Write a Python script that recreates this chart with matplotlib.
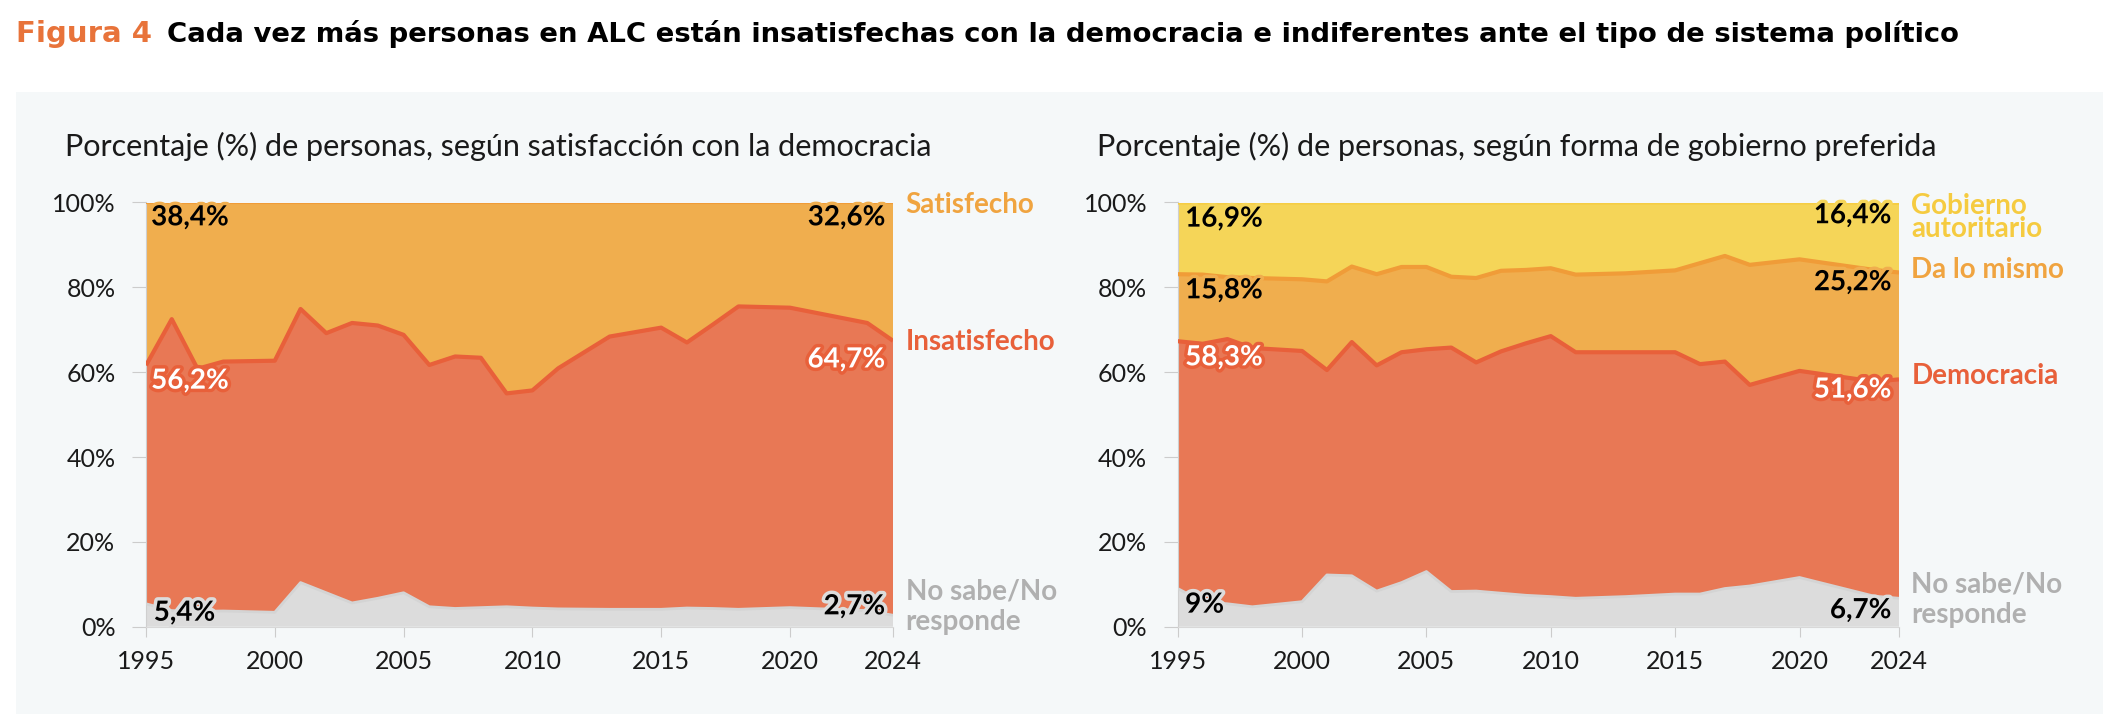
import matplotlib
matplotlib.use("Agg")
import matplotlib.pyplot as plt
import matplotlib.patheffects as pe
import numpy as np
from matplotlib.patches import Rectangle

# data, in percent
years = [1995, 1996, 1997, 1998, 2000, 2001, 2002, 2003, 2004, 2005, 2006, 2007,
         2008, 2009, 2010, 2011, 2013, 2015, 2016, 2017, 2018, 2020, 2023, 2024]

# left: satisfaction with democracy
sat_ns = [5.4, 3.8, 3.6, 3.7, 3.4, 10.4, 8.0, 5.6, 6.7, 8.0, 4.7, 4.3,
          4.5, 4.7, 4.4, 4.2, 4.1, 4.1, 4.4, 4.3, 4.1, 4.5, 3.8, 2.7]
insatisfecho = [56.2, 68.7, 57.2, 58.8, 59.3, 64.5, 61.2, 66.0, 64.3, 60.8, 57.0, 59.4,
                58.9, 50.3, 51.3, 56.7, 64.3, 66.4, 62.6, 66.9, 71.4, 70.7, 67.8, 64.7]
satisfecho = [38.4, 27.5, 39.2, 37.5, 37.3, 25.1, 30.8, 28.4, 29.0, 31.2, 38.3, 36.3,
              36.6, 45.0, 44.3, 39.1, 31.6, 29.5, 33.0, 28.8, 24.5, 24.8, 28.4, 32.6]

# right: preferred form of government
gov_ns = [9.0, 5.9, 5.4, 4.7, 5.9, 12.2, 12.0, 8.4, 10.4, 13.0, 8.3, 8.4,
          7.9, 7.4, 7.1, 6.7, 7.1, 7.7, 7.7, 9.0, 9.6, 11.6, 7.2, 6.7]
democracia = [58.3, 60.8, 62.4, 61.0, 59.1, 48.3, 55.1, 53.2, 54.3, 52.4, 57.5, 53.9,
              57.0, 59.4, 61.4, 58.0, 57.6, 57.0, 54.2, 53.5, 47.4, 48.7, 50.6, 51.6]
da_lo_mismo = [15.8, 16.3, 14.6, 16.5, 16.9, 20.9, 17.8, 21.5, 20.1, 19.4, 16.7, 19.9,
               19.0, 17.3, 16.0, 18.3, 18.6, 19.3, 23.8, 24.9, 28.3, 26.3, 26.3, 25.2]
autoritario = [16.9, 17.0, 17.6, 17.8, 18.1, 18.6, 15.1, 16.9, 15.2, 15.2, 17.5, 17.8,
               16.1, 15.9, 15.5, 17.0, 16.7, 16.0, 14.3, 12.6, 14.7, 13.4, 15.9, 16.4]

xticks = [1995, 2000, 2005, 2010, 2015, 2020, 2024]

C_GRAY = "#dcdcdc"
C_RED = "#e87855"
C_ORANGE = "#f0ae4e"
C_YELLOW = "#f5d558"
L_GRAY = "#d4d4d4"
L_RED = "#e8603a"
L_ORANGE = "#f09c38"
L_YELLOW = "#f5cd45"
T_GRAY = "#b0b0b0"
T_RED = "#e8603a"
T_ORANGE = "#f0a440"
T_YELLOW = "#f5cb40"

plt.rcParams["font.family"] = ["Lato", "DejaVu Sans"]

fig = plt.figure(figsize=(21.16, 7.14), dpi=100)
fig.patches.append(Rectangle((16 / 2116, 0), (2103 - 16) / 2116, 1 - 92 / 714,
                             transform=fig.transFigure, facecolor="#f5f8f9",
                             edgecolor="none", zorder=-10))

renderer = fig.canvas.get_renderer()
t1 = fig.text(16 / 2116, 0.952, "Figura 4", color="#e8733a", fontsize=21,
              fontweight="bold", va="center", ha="left",
              family=["DejaVu Sans"])
bb = t1.get_window_extent(renderer)
t2 = fig.text((bb.x1 + 15) / 2116, 0.952,
              "Cada vez más personas en ALC están insatisfechas con la democracia e indiferentes ante el tipo de sistema político",
              color="black", fontsize=22, fontweight="bold", va="center", ha="left",
              family=["DejaVu Sans"])
w = t2.get_window_extent(renderer).width
t2.set_fontsize(22 * 1790 / w)


def fmt(v):
    s = ("%.1f" % v).replace(".", ",")
    if s.endswith(",0"):
        s = s[:-2]
    return s + "%"


def setup(ax):
    ax.set_facecolor("none")
    ax.set_xlim(1995, 2024)
    ax.set_ylim(0, 100)
    ax.set_xticks(xticks)
    ax.set_yticks(range(0, 101, 20))
    ax.set_yticklabels(["%d%%" % v for v in range(0, 101, 20)])
    for s in ["top", "right"]:
        ax.spines[s].set_visible(False)
    ax.spines["left"].set_color("#cfcfcf")
    ax.spines["bottom"].set_color("#d8d8d8")
    ax.tick_params(axis="y", length=10, color="#cccccc", pad=12,
                   labelsize=18, labelcolor="#1a1a1a")
    ax.tick_params(axis="x", length=7, color="#cccccc", pad=10,
                   labelsize=18, labelcolor="#1a1a1a")


def value_label(ax, x, y, v, color, stroke, ha):
    ax.text(x, y, fmt(v), color=color, fontsize=20, fontweight="bold",
            ha=ha, va="center", zorder=6,
            path_effects=[pe.withStroke(linewidth=5, foreground=stroke)])


def side_label(ax, y, text, color, ls=0.85):
    ax.text(1.017, y, text, transform=ax.transAxes, color=color, fontsize=20,
            fontweight="bold", ha="left", va="center", linespacing=ls)


# left panel
ax1 = fig.add_axes([146 / 2116, 1 - 626.7 / 714, (893 - 146) / 2116, (626.7 - 202.5) / 714])
setup(ax1)
layers1 = [sat_ns, insatisfecho, satisfecho]
ax1.stackplot(years, *layers1, colors=[C_GRAY, C_RED, C_ORANGE], lw=0, zorder=2)
tops1 = np.cumsum(np.array(layers1), axis=0)
for top, lc, lw in zip(tops1, [L_GRAY, L_RED, L_ORANGE], [2, 3, 3]):
    ax1.plot(years, top, color=lc, lw=lw, zorder=3, solid_capstyle="butt")

value_label(ax1, 1995.2, 96.5, satisfecho[0], "black", C_ORANGE, "left")
value_label(ax1, 1995.2, 58.0, insatisfecho[0], "white", L_RED, "left")
value_label(ax1, 1995.3, 3.3, sat_ns[0], "black", C_GRAY, "left")
value_label(ax1, 2023.7, 96.5, satisfecho[-1], "black", C_ORANGE, "right")
value_label(ax1, 2023.7, 63.0, insatisfecho[-1], "white", L_RED, "right")
value_label(ax1, 2023.7, 4.8, sat_ns[-1], "black", C_GRAY, "right")

side_label(ax1, 0.995, "Satisfecho", T_ORANGE)
side_label(ax1, 0.67, "Insatisfecho", T_RED)
side_label(ax1, 0.047, "No sabe/No\nresponde", T_GRAY, ls=1.2)

fig.text(65 / 2116, 1 - 146 / 714,
         "Porcentaje (%) de personas, según satisfacción con la democracia",
         fontsize=22, color="#1a1a1a", ha="left", va="center")

# right panel
ax2 = fig.add_axes([1177.7 / 2116, 1 - 626.7 / 714, (1899 - 1177.7) / 2116, (626.7 - 202.5) / 714])
setup(ax2)
layers2 = [gov_ns, democracia, da_lo_mismo, autoritario]
ax2.stackplot(years, *layers2, colors=[C_GRAY, C_RED, C_ORANGE, C_YELLOW], lw=0, zorder=2)
tops2 = np.cumsum(np.array(layers2), axis=0)
for top, lc, lw in zip(tops2, [L_GRAY, L_RED, L_ORANGE, L_YELLOW], [2, 3, 3, 3]):
    ax2.plot(years, top, color=lc, lw=lw, zorder=3, solid_capstyle="butt")

value_label(ax2, 1995.3, 96.2, autoritario[0], "black", C_YELLOW, "left")
value_label(ax2, 1995.3, 79.3, da_lo_mismo[0], "black", C_ORANGE, "left")
value_label(ax2, 1995.3, 63.5, democracia[0], "white", L_RED, "left")
value_label(ax2, 1995.3, 5.2, gov_ns[0], "black", C_GRAY, "left")
value_label(ax2, 2023.7, 97.0, autoritario[-1], "black", C_YELLOW, "right")
value_label(ax2, 2023.7, 81.2, da_lo_mismo[-1], "black", C_ORANGE, "right")
value_label(ax2, 2023.7, 55.9, democracia[-1], "white", L_RED, "right")
value_label(ax2, 2023.7, 3.9, gov_ns[-1], "black", C_GRAY, "right")

side_label(ax2, 0.965, "Gobierno\nautoritario", T_YELLOW)
side_label(ax2, 0.84, "Da lo mismo", T_ORANGE)
side_label(ax2, 0.59, "Democracia", T_RED)
side_label(ax2, 0.063, "No sabe/No\nresponde", T_GRAY, ls=1.2)

fig.text(1097 / 2116, 1 - 146 / 714,
         "Porcentaje (%) de personas, según forma de gobierno preferida",
         fontsize=22, color="#1a1a1a", ha="left", va="center")

fig.savefig("out.png", dpi=100)
